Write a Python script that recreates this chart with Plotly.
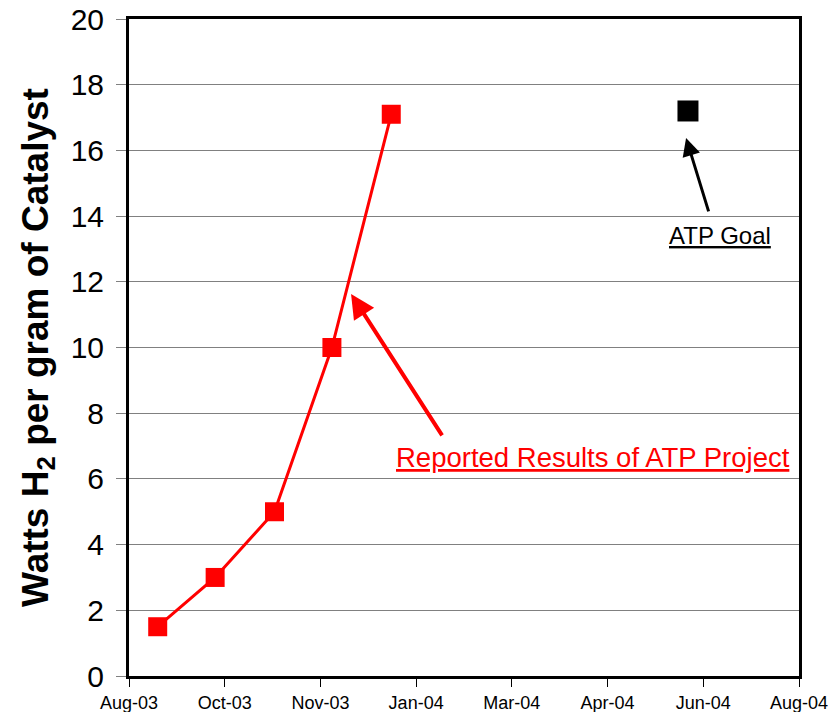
import plotly.graph_objects as go

# Data
dates = ["2003-09-01", "2003-10-01", "2003-11-01", "2003-12-01", "2004-01-01"]
watts = [1.5, 3.0, 5.0, 10.0, 17.1]
goal_date = ["2004-06-04"]
goal_watts = [17.2]

tick_vals = ["2003-08-17", "2003-10-06", "2003-11-25", "2004-01-14",
             "2004-03-04", "2004-04-23", "2004-06-12", "2004-08-01"]
tick_text = ["Aug-03", "Oct-03", "Nov-03", "Jan-04", "Mar-04", "Apr-04", "Jun-04", "Aug-04"]
y_ticks = [0, 2, 4, 6, 8, 10, 12, 14, 16, 18, 20]

FONT = "Liberation Sans, Arial, sans-serif"
W, H = 831, 712
ML, MR, MT, MB = 100, 32, 19, 36
PLOT_W = W - ML - MR

fig = go.Figure()
fig.add_trace(go.Scatter(
    x=dates, y=watts, mode="lines+markers",
    line=dict(color="#ff0000", width=3),
    marker=dict(symbol="square", size=19, color="#ff0000"),
    showlegend=False, cliponaxis=False,
))
fig.add_trace(go.Scatter(
    x=goal_date, y=goal_watts, mode="markers",
    marker=dict(symbol="square", size=21, color="#000000"),
    showlegend=False, cliponaxis=False, yaxis="y2",
))

fig.update_layout(
    width=W, height=H,
    margin=dict(l=ML, r=MR, t=MT, b=MB),
    paper_bgcolor="white", plot_bgcolor="white",
    font=dict(family=FONT, color="black"),
    xaxis=dict(
        type="date", range=[tick_vals[0], tick_vals[-1]],
        domain=[29 / PLOT_W, 1],
        tickvals=tick_vals, ticktext=tick_text,
        tickfont=dict(size=18), automargin=False,
        showgrid=False, zeroline=False,
        showline=True, linecolor="black", linewidth=3, mirror=True,
        ticks="outside", ticklen=8, tickcolor="black", tickwidth=1,
    ),
    yaxis=dict(
        range=[0, 20], tickvals=y_ticks, showticklabels=False,
        automargin=False,
        showgrid=True, gridcolor="#808080", gridwidth=1, zeroline=False,
        showline=True, linecolor="black", linewidth=3, mirror=True,
        ticks="outside", ticklen=10, tickcolor="#808080", tickwidth=1,
        title=dict(text="<b>Watts H<sub>2</sub> per gram of Catalyst</b>",
                   font=dict(size=37), standoff=57),
    ),
    yaxis2=dict(
        range=[0, 20], tickvals=y_ticks, overlaying="y",
        anchor="free", position=4 / PLOT_W, side="left",
        tickfont=dict(size=30), automargin=False,
        showgrid=False, zeroline=False, showline=False, ticks="",
    ),
)

fig.add_annotation(
    x="2004-06-03", y=16.38, xref="x", yref="y",
    ax=23, ay=75, showarrow=True, arrowhead=2, arrowsize=1.2,
    arrowwidth=3, arrowcolor="black", text="",
)
fig.add_annotation(
    x="2003-12-11", y=11.63, xref="x", yref="y",
    ax=92, ay=143, showarrow=True, arrowhead=2, arrowsize=1.2,
    arrowwidth=4, arrowcolor="#ff0000", text="",
)
fig.add_annotation(
    x=0.882, y=0.671, xref="x domain", yref="paper",
    xanchor="center", yanchor="middle",
    text="<u>ATP Goal</u>", showarrow=False,
    font=dict(size=24, color="black"),
)
fig.add_annotation(
    x=0.693, y=0.332, xref="x domain", yref="paper",
    xanchor="center", yanchor="middle",
    text="<u>Reported Results of ATP Project</u>", showarrow=False,
    font=dict(size=27.5, color="#ff0000"),
)

fig.write_html("out.html", config={"displayModeBar": False},
               post_script="document.body.style.margin='0';")
